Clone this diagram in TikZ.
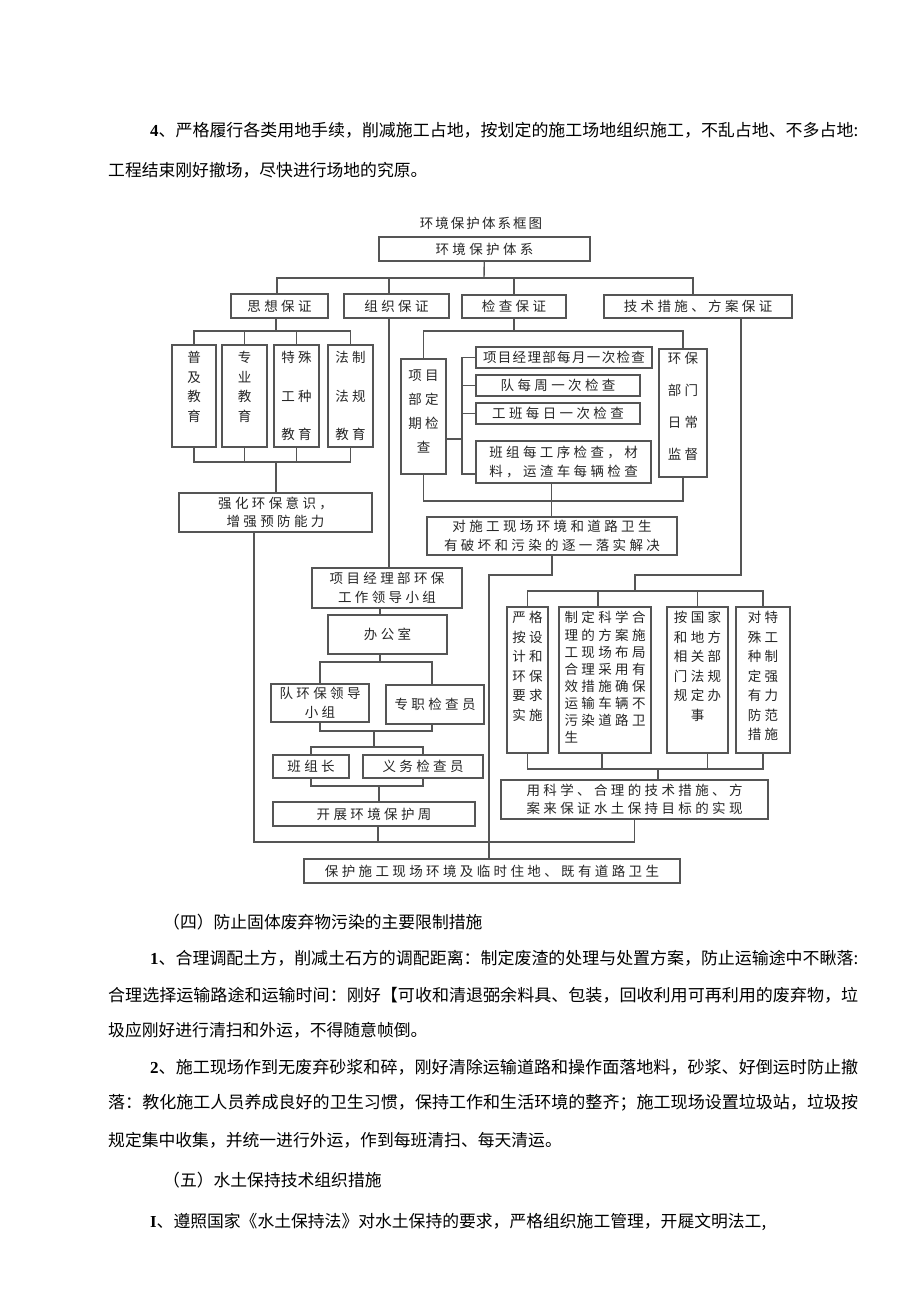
\documentclass[tikz,border=0pt]{standalone}
\usepackage{fontspec}
\usepackage{graphicx}
\usetikzlibrary{positioning}
\setmainfont{Noto Sans CJK SC}
\newfontfamily\numfont{Liberation Serif}
\newfontfamily\boxfont[LetterSpace=25]{Noto Sans CJK SC}
\newfontfamily\tightfont[LetterSpace=10]{Noto Sans CJK SC}
\newfontfamily\titlefont[LetterSpace=15]{Noto Sans CJK SC}
\definecolor{linegray}{HTML}{555555}
\definecolor{textgray}{HTML}{262626}
\newcommand{\fullline}[2]{\resizebox{#1}{\height}{#2}}
\newcommand{\bnum}[1]{{\numfont\bfseries #1}}

\tikzset{
  para/.style={anchor=west, inner sep=0pt, font=\fontsize{16.8}{20}\selectfont},
  box/.style={draw=linegray, fill=white, line width=1.4pt, text=textgray, inner sep=0pt,
    align=center, font=\boxfont\fontsize{13.5}{18.5}\selectfont},
  vtext/.style={inner sep=0pt, text=textgray, align=center,
    font=\boxfont\fontsize{13.5}{19.5}\selectfont},
  wire/.style={draw=linegray, line width=1.4pt}
}

\begin{document}
\begin{tikzpicture}[x=1pt,y=1pt]
  \fill[white] (0,0) rectangle (920,-1301);
  \useasboundingbox (0,0) rectangle (920,-1301);

  % text above the chart
  \node[para] (p1) at (150,-130) {\fullline{708pt}{\bnum{4}、严格履行各类用地手续，削减施工占地，按划定的施工场地组织施工，不乱占地、不多占地:}};
  \node[para] (p2) at (108,-170) {工程结束刚好撤场，尽快进行场地的究原。};
  \node[text=textgray, inner sep=0pt, font=\titlefont\fontsize{13.5}{16}\selectfont] (title) at (481,-223) {环境保护体系框图};

  % first level
  \node[box, minimum width=211pt, minimum height=24pt] (top) at (484.5,-249) {环境保护体系};
  \node[box, minimum width=97pt, minimum height=24pt] (sx) at (279.5,-306) {思想保证};
  \node[box, minimum width=105pt, minimum height=24pt] (zz) at (396.5,-306) {组织保证};
  \node[box, minimum width=104pt, minimum height=23pt] (jc) at (514,-306.5) {检查保证};
  \node[box, minimum width=188pt, minimum height=23pt] (js) at (698,-306.5) {技术措施、方案保证};

  % 思想保证
  \node[box, minimum width=44pt, minimum height=102pt] (pj) at (194,-396) {};
  \node[vtext, below=7pt of pj.north] (pjt) {普\\及\\教\\育};
  \node[box, minimum width=45pt, minimum height=102pt] (zy) at (244.5,-396) {};
  \node[vtext, below=7pt of zy.north] (zyt) {专\\业\\教\\育};
  \node[box, minimum width=45pt, minimum height=102pt] (ts) at (296.5,-396) {};
  \node[vtext, below=7pt of ts.north] (tst) {特殊\\[19pt]工种\\[19pt]教育};
  \node[box, minimum width=45pt, minimum height=102pt] (fz) at (350.5,-396) {};
  \node[vtext, below=7pt of fz.north] (fzt) {法制\\[19pt]法规\\[19pt]教育};
  \node[box, minimum width=193pt, minimum height=39pt] (qh) at (275.5,-512.5) {强化环保意识，\\增强预防能力};

  % 检查保证
  \node[box, minimum width=45pt, minimum height=115pt] (xmb) at (423.5,-416.5) {};
  \node[vtext, below=11pt of xmb.north] (xmbt) {项目\\[4.5pt]部定\\[4.5pt]期检\\[4.5pt]查};
  \node[box, minimum width=176pt, minimum height=21pt, font=\tightfont\fontsize{13.5}{18.5}\selectfont] (c1) at (564,-357.5) {项目经理部每月一次检查};
  \node[box, minimum width=164pt, minimum height=21pt] (c2) at (558,-385.5) {队每周一次检查};
  \node[box, minimum width=164pt, minimum height=21pt] (c3) at (558,-413.5) {工班每日一次检查};
  \node[box, minimum width=175pt, minimum height=42pt] (c4) at (563.5,-462) {班组每工序检查，材\\料，运渣车每辆检查};
  \node[box, minimum width=48pt, minimum height=128pt] (hb) at (683,-413) {};
  \node[vtext, below=4pt of hb.north] (hbt) {环保\\[12.5pt]部门\\[12.5pt]日常\\[12.5pt]监督};
  \node[box, minimum width=250pt, minimum height=38pt] (dsg) at (552,-536) {对施工现场环境和道路卫生\\有破坏和污染的逐一落实解决};

  % 组织保证
  \node[box, minimum width=150pt, minimum height=40pt] (xmjl) at (387,-588) {项目经理部环保\\工作领导小组};
  \node[box, minimum width=119pt, minimum height=39pt] (bgs) at (387.5,-634.5) {办公室};
  \node[box, minimum width=98pt, minimum height=38pt] (dhb) at (320,-703) {队环保领导\\小组};
  \node[box, minimum width=98pt, minimum height=39pt] (zzj) at (435,-704.5) {专职检查员};
  \node[box, minimum width=76pt, minimum height=23pt] (bzz) at (311,-766.5) {班组长};
  \node[box, minimum width=120pt, minimum height=23pt] (ywj) at (423,-766.5) {义务检查员};
  \node[box, minimum width=202pt, minimum height=24pt] (kz) at (374,-814) {开展环境保护周};

  % 技术措施、方案保证
  \node[box, minimum width=41pt, minimum height=146pt] (t1) at (527.5,-680) {};
  \node[vtext, below=5pt of t1.north] (t1t) {严格\\按设\\计和\\环保\\要求\\实施};
  \node[box, minimum width=92pt, minimum height=146pt] (t2) at (605,-680) {};
  \node[vtext, align=left, font=\boxfont\fontsize{13.5}{17.1}\selectfont, below=5pt of t2.north] (t2t) {制定科学合\\理的方案施\\工现场布局\\合理采用有\\效措施确保\\运输车辆不\\污染道路卫\\生};
  \node[box, minimum width=61pt, minimum height=146pt] (t3) at (697.5,-680) {};
  \node[vtext, below=5pt of t3.north] (t3t) {按国家\\和地方\\相关部\\门法规\\规定办\\事};
  \node[box, minimum width=54pt, minimum height=146pt] (t4) at (763,-680) {};
  \node[vtext, below=5pt of t4.north] (t4t) {对特\\殊工\\种制\\定强\\有力\\防范\\措施};
  \node[box, minimum width=267pt, minimum height=39pt] (ykx) at (634.5,-799.5) {用科学、合理的技术措施、方\\案来保证水土保持目标的实现};

  \node[box, minimum width=376pt, minimum height=24pt] (bh) at (492,-871) {保护施工现场环境及临时住地、既有道路卫生};

  % connectors
  \coordinate (busA) at (484,-278);
  \draw[wire] (top) -- (busA);
  \draw[wire] ([xshift=-2.5pt]sx.north) |- (busA);
  \draw[wire] ([xshift=-7.5pt]zz.north) |- (busA);
  \draw[wire] (jc.north) |- (busA);
  \draw[wire] ([xshift=-5pt]js.north) |- (busA);

  \coordinate (busB) at (276,-331);
  \coordinate (busC) at (276,-462);
  \draw[wire] ([xshift=-3.5pt]sx.south) -- (busB);
  \foreach \n in {pj,zy,ts,fz}{
    \draw[wire] (\n.north) |- (busB);
    \draw[wire] (\n.south) |- (busC);
  }
  \draw[wire] (busC) -- (busC |- qh.north);

  \coordinate (busD) at (513,-331);
  \coordinate (spine) at (462,-439);
  \coordinate (loopC) at (552,-501);
  \draw[wire] (jc.south) |- (busD);
  \draw[wire] (xmb.north) |- (busD);
  \draw[wire] (hb.north) |- (busD);
  \draw[wire] ([yshift=-22.5pt]xmb.east) -- (spine);
  \foreach \n in {c1,c2,c3}
    \draw[wire] (\n.west) -| (spine);
  \draw[wire] ([yshift=-12pt]c4.west) -| (spine);
  \draw[wire] (xmb.south) |- (loopC);
  \draw[wire] (hb.south) |- (loopC);
  \draw[wire] ([xshift=-12pt]c4.south) |- (dsg.north);

  \coordinate (jog) at (489,-575);
  \draw[wire] (dsg.south) |- (jog) -- (jog |- bh.north);

  \coordinate (jog2) at (635,-575);
  \coordinate (busE) at (635,-591);
  \coordinate (busF) at (658,-769);
  \draw[wire] ([xshift=43pt]js.south) |- (jog2) -- (busE);
  \foreach \n in {t1,t3,t4}
    \draw[wire] (\n.north) |- (busE);
  \draw[wire] ([xshift=-7pt]t2.north) |- (busE);
  \draw[wire] (t1.south) |- (busF);
  \draw[wire] ([xshift=-3pt]t2.south) |- (busF);
  \draw[wire] ([xshift=10pt]t3.south) |- (busF);
  \draw[wire] (t4.south) |- (busF);
  \draw[wire] (busF) -- (busF |- ykx.north);

  \coordinate (busG) at (380,-662);
  \coordinate (busH) at (374,-731);
  \coordinate (busI) at (374,-747);
  \coordinate (busJ) at (379,-786);
  \draw[wire] ([xshift=-7.5pt]zz.south) |- (xmjl.north);
  \draw[wire] ([xshift=-7pt]xmjl.south) |- ([xshift=-7.5pt]bgs.north);
  \draw[wire] ([xshift=-7.5pt]bgs.south) -- (busG);
  \draw[wire] (dhb.north) |- (busG);
  \draw[wire] ([xshift=-3pt]zzj.north) |- (busG);
  \draw[wire] (dhb.south) |- (busH);
  \draw[wire] ([xshift=-3pt]zzj.south) |- (busH);
  \draw[wire] (busH) -- (busI);
  \draw[wire] (bzz.north) |- (busI);
  \draw[wire] (ywj.north) |- (busI);
  \draw[wire] (bzz.south) |- (busJ);
  \draw[wire] (ywj.south) |- (busJ);
  \draw[wire] (busJ) -- (busJ |- kz.north);

  \coordinate (loopB) at (450,-842);
  \draw[wire] ([xshift=-21.5pt]qh.south) |- (loopB);
  \draw[wire] ([xshift=4pt]kz.south) |- (loopB);
  \draw[wire] (ykx.south) |- (loopB);

  % text below the chart
  \node[para] (p3) at (163,-922) {（四）防止固体废弃物污染的主要限制措施};
  \node[para] (p4) at (150,-958) {\fullline{708pt}{\bnum{1}、合理调配土方，削减土石方的调配距离：制定废渣的处理与处置方案，防止运输途中不瞅落:}};
  \node[para] (p5) at (108,-995) {\fullline{750pt}{合理选择运输路途和运输时间：刚好【可收和清退弼余料具、包装，回收利用可再利用的废弃物，垃}};
  \node[para] (p6) at (108,-1030) {圾应刚好进行清扫和外运，不得随意帧倒。};
  \node[para] (p7) at (150,-1067) {\fullline{708pt}{\bnum{2}、施工现场作到无废弃砂浆和碎，刚好清除运输道路和操作面落地料，砂浆、好倒运时防止撤}};
  \node[para] (p8) at (108,-1103) {\fullline{750pt}{落：教化施工人员养成良好的卫生习惯，保持工作和生活环境的整齐；施工现场设置垃圾站，垃圾按}};
  \node[para] (p9) at (108,-1140) {规定集中收集，并统一进行外运，作到每班清扫、每天清运。};
  \node[para] (p10) at (163,-1180) {（五）水土保持技术组织措施};
  \node[para] (p11) at (150,-1222) {\bnum{I}、遵照国家《水土保持法》对水土保持的要求，严格组织施工管理，开屣文明法工,};
\end{tikzpicture}
\end{document}
